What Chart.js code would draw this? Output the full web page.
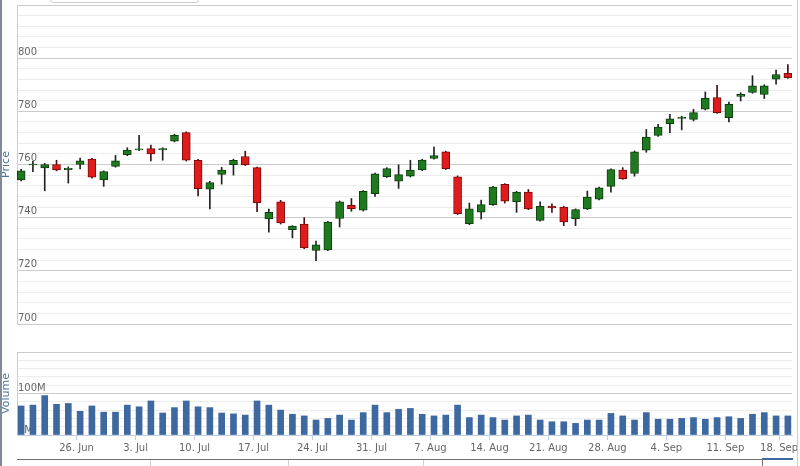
<!DOCTYPE html>
<html>
<head>
<meta charset="utf-8">
<script src="https://cdn.jsdelivr.net/npm/chart.js@4.4.1/dist/chart.umd.min.js"></script>
<style>
  html, body { margin: 0; padding: 0; background: #fff; }
  #wrap { position: relative; width: 800px; height: 466px; overflow: hidden; }
  #wrap canvas { position: absolute; left: 0; top: 0; z-index: 0; }
  .edge-l { position: absolute; z-index: 1; left: 0; top: 0; width: 2px; height: 466px; background: #7d8b99; }
  .edge-r { position: absolute; z-index: 1; left: 797px; top: 0; width: 1px; height: 466px; background: #c8ced4; }
  .nav { position: absolute; z-index: 1; left: 17px; top: 459px; width: 760px; height: 1px; background: #6f6f6f; }
  .nav-tick { position: absolute; z-index: 1; top: 460px; width: 1px; height: 6px; background: #d0d0d0; }
  .nav-hand { position: absolute; z-index: 1; left: 762px; top: 458px; width: 30px; height: 8px; border-top: 2px solid #3d69a0; border-left: 1px solid #777; }
  .range { position: absolute; z-index: 1; left: 50px; top: -10px; width: 147px; height: 11px; border: 1px solid #ccc; border-radius: 3px; }
</style>
</head>
<body>
<div id="wrap">
  <canvas id="chart" width="800" height="466"></canvas>
  <div class="edge-l"></div>
  <div class="edge-r"></div>
  <div class="nav"></div>
  <div class="nav-tick" style="left:150px"></div>
  <div class="nav-tick" style="left:288px"></div>
  <div class="nav-tick" style="left:423px"></div>
  <div class="nav-hand"></div>
  <div class="range"></div>
</div>
<script>
// week start labels and the trading-day index they fall on
const weekLabels = ['26. Jun', '3. Jul', '10. Jul', '17. Jul', '24. Jul', '31. Jul', '7. Aug',
  '14. Aug', '21. Aug', '28. Aug', '4. Sep', '11. Sep', '18. Sep'];
const weekStarts = [5, 10, 15, 20, 25, 30, 35, 40, 45, 50, 55, 60, 65];

// daily OHLC
const opens = [754.2, 759.8, 758.7, 760.0, 758.1, 760.0, 762.0, 754.2, 759.3, 763.7, 765.5,
  766.0, 765.5, 768.8, 772.0, 761.6, 750.7, 756.3, 759.9, 763.0, 758.8, 739.5, 746.0, 735.5,
  737.6, 727.7, 727.9, 739.7, 744.6, 742.8, 749.0, 755.4, 753.7, 755.6, 758.0, 762.3, 764.8,
  755.4, 737.7, 742.1, 744.9, 752.5, 746.0, 749.6, 739.0, 744.3, 744.0, 739.6, 743.3, 747.0,
  751.8, 757.9, 756.6, 765.4, 770.9, 775.4, 777.3, 777.0, 780.8, 785.2, 777.6, 785.6, 787.1,
  786.4, 792.1, 794.3];
const highs = [758.2, 761.2, 760.4, 761.6, 759.1, 762.4, 762.3, 757.6, 763.4, 766.3, 771.0,
  767.3, 766.3, 771.4, 772.3, 761.9, 753.7, 758.9, 762.0, 765.0, 759.0, 743.2, 746.5, 737.0,
  740.0, 731.2, 738.6, 746.3, 747.2, 750.2, 756.8, 758.8, 759.9, 761.6, 762.0, 766.6, 765.0,
  755.7, 745.5, 746.6, 751.8, 752.8, 749.9, 750.6, 746.0, 745.2, 744.3, 743.3, 750.0, 751.5,
  758.4, 758.8, 765.1, 773.2, 775.1, 778.9, 778.2, 780.8, 787.3, 789.8, 783.5, 787.0, 793.4,
  790.0, 795.5, 797.6];
const lows = [753.8, 757.3, 750.1, 757.6, 753.0, 758.3, 754.9, 751.8, 759.0, 763.3, 765.2,
  761.3, 761.6, 768.5, 761.3, 748.2, 743.3, 752.6, 756.0, 759.6, 742.3, 734.5, 737.6, 732.4,
  728.3, 723.8, 727.6, 736.5, 742.4, 742.5, 748.0, 755.1, 751.0, 755.3, 757.7, 762.0, 758.1,
  741.2, 737.4, 739.5, 744.6, 745.5, 742.0, 743.0, 738.7, 742.0, 737.0, 737.0, 743.0, 746.7,
  749.6, 754.4, 755.6, 764.6, 770.6, 772.0, 773.0, 776.4, 780.5, 779.2, 776.0, 783.9, 786.8,
  784.8, 790.2, 792.4];
const closes = [757.6, 760.2, 760.0, 758.0, 758.6, 761.4, 755.2, 757.3, 761.4, 765.4, 765.9,
  764.0, 766.0, 771.0, 761.6, 750.9, 753.2, 757.9, 761.6, 759.9, 745.6, 742.0, 738.0, 736.8,
  728.6, 729.8, 738.3, 746.0, 743.4, 749.9, 756.5, 758.5, 756.2, 757.9, 761.7, 763.4, 758.4,
  741.5, 743.3, 744.9, 751.5, 746.2, 749.6, 743.3, 744.3, 743.7, 738.4, 743.0, 747.7, 751.2,
  758.1, 754.7, 764.8, 770.3, 774.1, 777.2, 777.8, 779.5, 784.9, 779.5, 782.6, 786.4, 789.6,
  789.6, 793.8, 792.7];
// volume, millions
const volumes = [70, 72, 95, 74, 76, 57, 70, 55, 55, 72, 68, 82, 53, 66, 82, 68, 66, 53, 51, 48, 82, 72,
  60, 50, 46, 36, 40, 48, 36, 54, 72, 54, 62, 64, 50, 46, 48, 72, 42, 48, 42, 36, 46, 48,
  36, 32, 32, 28, 36, 36, 52, 46, 36, 54, 38, 38, 40, 42, 38, 42, 44, 40, 50, 54, 46, 46];

const priceMin = 700, priceMax = 820;
const volMax = 200;

const isUp = closes.map((c, i) => c >= opens[i]);
const bodies = opens.map((o, i) => ({ x: i, y: [o, closes[i]] }));
const wicks = lows.map((l, i) => ({ x: i, y: [l, highs[i]] }));
const vols = volumes.map((v, i) => ({ x: i, y: v }));

Chart.defaults.font.family = '"DejaVu Sans", Verdana, sans-serif';
Chart.defaults.font.size = 10;
Chart.defaults.color = '#666';

const fixLeft = (s) => { s.width = 17; s.paddingTop = 0; s.paddingBottom = 0; };

// left axes in one stack: the layout places the last one on top,
// so they are listed bottom pane first
new Chart(document.getElementById('chart'), {
  type: 'bar',
  data: {
    datasets: [
      {
        label: 'body',
        data: bodies,
        yAxisID: 'yPrice',
        grouped: false,
        barThickness: 8,
        backgroundColor: isUp.map(u => u ? '#1f7a1f' : '#e01b1b'),
        borderColor: isUp.map(u => u ? '#0d3d0d' : '#7a0a0a'),
        borderWidth: 1,
        borderSkipped: false
      },
      {
        label: 'wick',
        data: wicks,
        yAxisID: 'yPrice',
        grouped: false,
        barThickness: 1,
        backgroundColor: isUp.map(u => u ? '#222' : '#4a1010')
      },
      {
        label: 'volume',
        data: vols,
        yAxisID: 'yVol',
        grouped: false,
        barThickness: 6,
        backgroundColor: '#3d69a0'
      }
    ]
  },
  options: {
    responsive: false,
    animation: false,
    layout: { padding: { top: 5, right: 8, bottom: 11, left: 0 } },
    plugins: { legend: { display: false }, tooltip: { enabled: false } },
    scales: {
      x: {
        type: 'linear',
        min: -0.35,
        max: 65.35,
        offset: false,
        grid: { offset: false, drawOnChartArea: false, drawTicks: true, tickLength: 5, color: '#c0d0e0' },
        border: { color: '#c0d0e0' },
        afterBuildTicks: (s) => {
          s.ticks = weekStarts.map(i => ({ value: Math.min(i - 0.3, s.max - 1.1) }));
        },
        afterFit: (s) => { s.height = 20; s.paddingLeft = 0; s.paddingRight = 0; },
        ticks: {
          autoSkip: false,
          maxRotation: 0,
          padding: 2,
          color: '#666',
          callback: (v, k) => weekLabels[k]
        }
      },
      yVol: {
        position: 'left',
        stack: 'panes',
        stackWeight: 83,
        min: 0,
        max: volMax,
        afterFit: fixLeft,
        grid: {
          drawTicks: false,
          color: (c) => (c.tick && c.tick.value % 100 === 0) ? '#cbcbcb' : '#ececec'
        },
        border: { color: '#c0d0e0' },
        title: { display: true, text: 'Volume', color: '#4d759e', font: { size: 11 }, padding: 0 },
        ticks: {
          stepSize: 20,
          autoSkip: false,
          mirror: true,
          padding: 1,
          labelOffset: -5,
          color: '#666',
          callback: (v) => (v % 100 === 0 && v !== volMax) ? v + 'M' : ''
        }
      },
      yGap: {
        position: 'left',
        stack: 'panes',
        stackWeight: 28,
        afterFit: fixLeft,
        grid: { display: false, drawTicks: false },
        border: { display: false },
        ticks: { display: false }
      },
      yPrice: {
        position: 'left',
        stack: 'panes',
        stackWeight: 319,
        min: priceMin,
        max: priceMax,
        afterFit: fixLeft,
        grid: {
          drawTicks: false,
          color: (c) => (c.tick && c.tick.value % 20 === 0) ? '#cbcbcb' : '#ececec'
        },
        border: { color: '#c0d0e0' },
        title: { display: true, text: 'Price', color: '#4d759e', font: { size: 11 }, padding: 0 },
        ticks: {
          stepSize: 4,
          autoSkip: false,
          mirror: true,
          padding: 1,
          labelOffset: -6,
          color: '#666',
          callback: (v) => (v % 20 === 0 && v !== priceMax) ? String(v) : ''
        }
      }
    }
  }
});
</script>
</body>
</html>
